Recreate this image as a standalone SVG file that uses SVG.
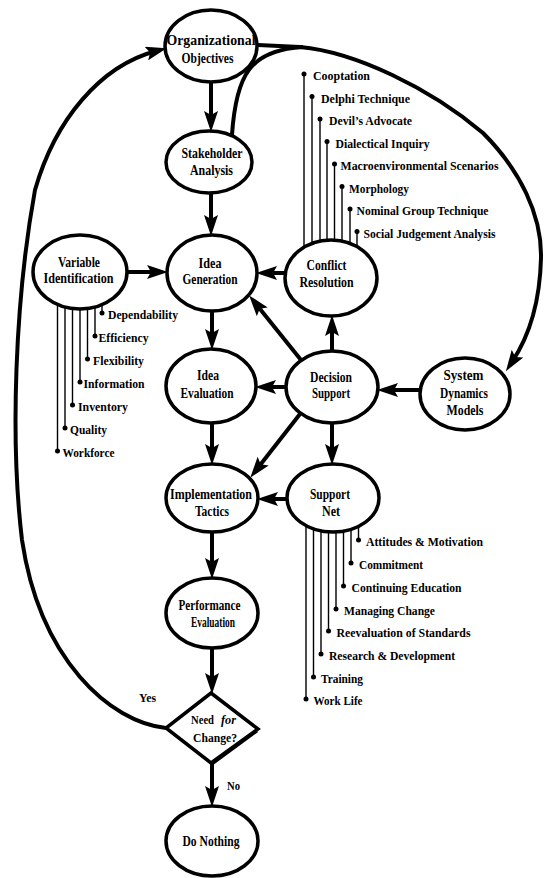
<svg xmlns="http://www.w3.org/2000/svg" width="544" height="878" viewBox="0 0 544 878">
<style>
  .bg{fill:#fff}
  .node ellipse,.node polygon{fill:#fff;stroke:#000;stroke-width:3.5}
  #connectors path{fill:none;stroke:#000;stroke-width:4;marker-end:url(#ah)}
  #connectors path.plain{marker-end:none}
  .list line{stroke:#000;stroke-width:1.4}
  .list circle{fill:#000}
  text{font-family:"Liberation Serif","Times New Roman",serif;font-weight:bold;fill:#000}
  .lbl{font-size:15px;text-anchor:middle}
  .dlbl{font-size:13.5px}
  .item{font-size:13px}
</style>
<defs>
  <marker id="ah" markerUnits="userSpaceOnUse" markerWidth="22" markerHeight="14" refX="10" refY="7" orient="auto">
    <path d="M0,0 L21,7 L0,14 L4,7 z" fill="#000"/>
  </marker>
</defs>
<rect class="bg" x="0" y="0" width="544" height="878"/>

<g id="connectors">
  <path d="M211,83 L211,121"/>
  <path d="M211,193 L211,225"/>
  <path d="M212,311 L212,339"/>
  <path d="M212,423 L212,454"/>
  <path d="M212,532 L212,568"/>
  <path d="M212,648 L212,683"/>
  <path d="M212,763 L212,796"/>
  <path d="M127,272 L157,272"/>
  <path d="M285,273 L267,273"/>
  <path d="M332,351 L332,326"/>
  <path d="M301,360 L256,304"/>
  <path d="M286,387 L266,387"/>
  <path d="M300,414 L257,469"/>
  <path d="M332,423 L332,454"/>
  <path d="M420,390 L388,390"/>
  <path d="M287,499 L268,499"/>
  <path d="M258,45 L300,47 C355,52 430,88 483,133 C520,170 542,215 541,258 C540,300 530,335 512,362"/>
  <path class="plain" d="M232,135 C236,75 250,50 303,47"/>
  <path d="M166,728 C110,722 40,660 22,540 C10,440 15,300 35,190 C55,120 100,66 156,51"/>
  <text x="139" y="702" class="item" textLength="17" lengthAdjust="spacingAndGlyphs">Yes</text>
  <text x="227" y="790" class="item" textLength="13" lengthAdjust="spacingAndGlyphs">No</text>
</g>

<g id="organizational-objectives" class="node">
  <ellipse cx="211" cy="46" rx="46" ry="36"/>
  <text class="lbl" x="211" y="45" textLength="89" lengthAdjust="spacingAndGlyphs">Organizational</text>
  <text class="lbl" x="207.5" y="63" textLength="52" lengthAdjust="spacingAndGlyphs">Objectives</text>
</g>

<g id="stakeholder-analysis" class="node">
  <ellipse cx="209" cy="162" rx="43" ry="31"/>
  <text class="lbl" x="212" y="158" textLength="61" lengthAdjust="spacingAndGlyphs">Stakeholder</text>
  <text class="lbl" x="211.5" y="175" textLength="43" lengthAdjust="spacingAndGlyphs">Analysis</text>
</g>

<g id="variable-identification" class="node">
  <g class="list">
    <line x1="102" y1="272" x2="102" y2="313"/><circle cx="102" cy="313" r="2.5"/>
    <line x1="95" y1="272" x2="95" y2="336"/><circle cx="95" cy="336" r="2.5"/>
    <line x1="87.5" y1="272" x2="87.5" y2="359"/><circle cx="87.5" cy="359" r="2.5"/>
    <line x1="80" y1="272" x2="80" y2="382"/><circle cx="80" cy="382" r="2.5"/>
    <line x1="72.5" y1="272" x2="72.5" y2="405"/><circle cx="72.5" cy="405" r="2.5"/>
    <line x1="65" y1="272" x2="65" y2="428"/><circle cx="65" cy="428" r="2.5"/>
    <line x1="57.5" y1="272" x2="57.5" y2="451"/><circle cx="57.5" cy="451" r="2.5"/>
  </g>
  <ellipse cx="80" cy="272" rx="47" ry="37"/>
  <text class="lbl" x="79" y="267" textLength="42" lengthAdjust="spacingAndGlyphs">Variable</text>
  <text class="lbl" x="78.5" y="283" textLength="70" lengthAdjust="spacingAndGlyphs">Identification</text>
  <text class="item" x="108" y="319" textLength="70" lengthAdjust="spacingAndGlyphs">Dependability</text>
  <text class="item" x="98.5" y="342" textLength="50" lengthAdjust="spacingAndGlyphs">Efficiency</text>
  <text class="item" x="93" y="365" textLength="51" lengthAdjust="spacingAndGlyphs">Flexibility</text>
  <text class="item" x="83.5" y="388" textLength="61" lengthAdjust="spacingAndGlyphs">Information</text>
  <text class="item" x="78" y="411" textLength="50" lengthAdjust="spacingAndGlyphs">Inventory</text>
  <text class="item" x="70" y="434" textLength="37" lengthAdjust="spacingAndGlyphs">Quality</text>
  <text class="item" x="62.5" y="457" textLength="52" lengthAdjust="spacingAndGlyphs">Workforce</text>
</g>

<g id="idea-generation" class="node">
  <ellipse cx="212" cy="273" rx="45" ry="38"/>
  <text class="lbl" x="210" y="268" textLength="23" lengthAdjust="spacingAndGlyphs">Idea</text>
  <text class="lbl" x="210" y="284" textLength="55" lengthAdjust="spacingAndGlyphs">Generation</text>
</g>

<g id="conflict-resolution" class="node">
  <g class="list">
    <line x1="304" y1="278" x2="304" y2="74"/><circle cx="304" cy="74" r="2.5"/>
    <line x1="312" y1="278" x2="312" y2="96.5"/><circle cx="312" cy="96.5" r="2.5"/>
    <line x1="320" y1="278" x2="320" y2="119"/><circle cx="320" cy="119" r="2.5"/>
    <line x1="327" y1="278" x2="327" y2="141.5"/><circle cx="327" cy="141.5" r="2.5"/>
    <line x1="334.5" y1="278" x2="334.5" y2="164"/><circle cx="334.5" cy="164" r="2.5"/>
    <line x1="342" y1="278" x2="342" y2="186.5"/><circle cx="342" cy="186.5" r="2.5"/>
    <line x1="350" y1="278" x2="350" y2="209"/><circle cx="350" cy="209" r="2.5"/>
    <line x1="357" y1="278" x2="357" y2="231.5"/><circle cx="357" cy="231.5" r="2.5"/>
  </g>
  <ellipse cx="331" cy="278" rx="46" ry="38"/>
  <text class="lbl" x="326.5" y="270" textLength="40" lengthAdjust="spacingAndGlyphs">Conflict</text>
  <text class="lbl" x="326.5" y="287" textLength="54" lengthAdjust="spacingAndGlyphs">Resolution</text>
  <text class="item" x="313" y="80" textLength="57" lengthAdjust="spacingAndGlyphs">Cooptation</text>
  <text class="item" x="321" y="102.5" textLength="89" lengthAdjust="spacingAndGlyphs">Delphi Technique</text>
  <text class="item" x="329" y="125" textLength="83" lengthAdjust="spacingAndGlyphs">Devil’s Advocate</text>
  <text class="item" x="335.5" y="147.5" textLength="94" lengthAdjust="spacingAndGlyphs">Dialectical Inquiry</text>
  <text class="item" x="340.5" y="170" textLength="158" lengthAdjust="spacingAndGlyphs">Macroenvironmental Scenarios</text>
  <text class="item" x="349" y="192.5" textLength="60" lengthAdjust="spacingAndGlyphs">Morphology</text>
  <text class="item" x="356.5" y="215" textLength="132" lengthAdjust="spacingAndGlyphs">Nominal Group Technique</text>
  <text class="item" x="363.5" y="237.5" textLength="132" lengthAdjust="spacingAndGlyphs">Social Judgement Analysis</text>
</g>

<g id="idea-evaluation" class="node">
  <ellipse cx="211" cy="386" rx="45" ry="37"/>
  <text class="lbl" x="208" y="380" textLength="22" lengthAdjust="spacingAndGlyphs">Idea</text>
  <text class="lbl" x="207" y="398" textLength="53" lengthAdjust="spacingAndGlyphs">Evaluation</text>
</g>

<g id="decision-support" class="node">
  <ellipse cx="332" cy="387" rx="46" ry="36"/>
  <text class="lbl" x="331" y="382" textLength="42" lengthAdjust="spacingAndGlyphs">Decision</text>
  <text class="lbl" x="331" y="398" textLength="38" lengthAdjust="spacingAndGlyphs">Support</text>
</g>

<g id="system-dynamics-models" class="node">
  <ellipse cx="465" cy="394" rx="45" ry="36"/>
  <text class="lbl" x="463.5" y="380" textLength="40" lengthAdjust="spacingAndGlyphs">System</text>
  <text class="lbl" x="464" y="398" textLength="48" lengthAdjust="spacingAndGlyphs">Dynamics</text>
  <text class="lbl" x="465" y="415" textLength="37" lengthAdjust="spacingAndGlyphs">Models</text>
</g>

<g id="implementation-tactics" class="node">
  <ellipse cx="212" cy="498" rx="46" ry="34"/>
  <text class="lbl" x="211" y="499" textLength="82" lengthAdjust="spacingAndGlyphs">Implementation</text>
  <text class="lbl" x="212" y="516" textLength="34" lengthAdjust="spacingAndGlyphs">Tactics</text>
</g>

<g id="support-net" class="node">
  <g class="list">
    <line x1="358.5" y1="498" x2="358.5" y2="540"/><circle cx="358.5" cy="540" r="2.5"/>
    <line x1="351" y1="498" x2="351" y2="563"/><circle cx="351" cy="563" r="2.5"/>
    <line x1="343.5" y1="498" x2="343.5" y2="586"/><circle cx="343.5" cy="586" r="2.5"/>
    <line x1="336" y1="498" x2="336" y2="609"/><circle cx="336" cy="609" r="2.5"/>
    <line x1="328.5" y1="498" x2="328.5" y2="631"/><circle cx="328.5" cy="631" r="2.5"/>
    <line x1="321" y1="498" x2="321" y2="654"/><circle cx="321" cy="654" r="2.5"/>
    <line x1="313.5" y1="498" x2="313.5" y2="677"/><circle cx="313.5" cy="677" r="2.5"/>
    <line x1="306" y1="498" x2="306" y2="699"/><circle cx="306" cy="699" r="2.5"/>
  </g>
  <ellipse cx="333" cy="498" rx="46" ry="34"/>
  <text class="lbl" x="330" y="499" textLength="40" lengthAdjust="spacingAndGlyphs">Support</text>
  <text class="lbl" x="331" y="516" textLength="18" lengthAdjust="spacingAndGlyphs">Net</text>
  <text class="item" x="366" y="546" textLength="117" lengthAdjust="spacingAndGlyphs">Attitudes &amp; Motivation</text>
  <text class="item" x="359" y="569" textLength="64" lengthAdjust="spacingAndGlyphs">Commitment</text>
  <text class="item" x="351.5" y="592" textLength="110" lengthAdjust="spacingAndGlyphs">Continuing Education</text>
  <text class="item" x="344" y="615" textLength="91" lengthAdjust="spacingAndGlyphs">Managing Change</text>
  <text class="item" x="336.5" y="637" textLength="134" lengthAdjust="spacingAndGlyphs">Reevaluation of Standards</text>
  <text class="item" x="329" y="660" textLength="126" lengthAdjust="spacingAndGlyphs">Research &amp; Development</text>
  <text class="item" x="321" y="683" textLength="42" lengthAdjust="spacingAndGlyphs">Training</text>
  <text class="item" x="313.5" y="705" textLength="49" lengthAdjust="spacingAndGlyphs">Work Life</text>
</g>

<g id="performance-evaluation" class="node">
  <ellipse cx="212" cy="613" rx="46" ry="35"/>
  <text class="lbl" x="209.5" y="610" textLength="62" lengthAdjust="spacingAndGlyphs">Performance</text>
  <text class="lbl" x="213" y="627" textLength="44" lengthAdjust="spacingAndGlyphs">Evaluation</text>
</g>

<g id="need-for-change" class="node">
  <polygon points="211,693 258,729 211,763 166,728"/>
  <line x1="257" y1="731" x2="212" y2="764" stroke="#000" stroke-width="3"/>
  <text class="dlbl" x="191" y="724" textLength="23" lengthAdjust="spacingAndGlyphs">Need</text>
  <text class="dlbl" x="221" y="724" textLength="15" lengthAdjust="spacingAndGlyphs" font-style="italic" font-weight="normal">for</text>
  <text class="dlbl" x="193" y="742" textLength="44" lengthAdjust="spacingAndGlyphs">Change?</text>
</g>

<g id="do-nothing" class="node">
  <ellipse cx="212" cy="841" rx="46" ry="35"/>
  <text class="lbl" x="211" y="846" textLength="57" lengthAdjust="spacingAndGlyphs">Do Nothing</text>
</g>
</svg>
